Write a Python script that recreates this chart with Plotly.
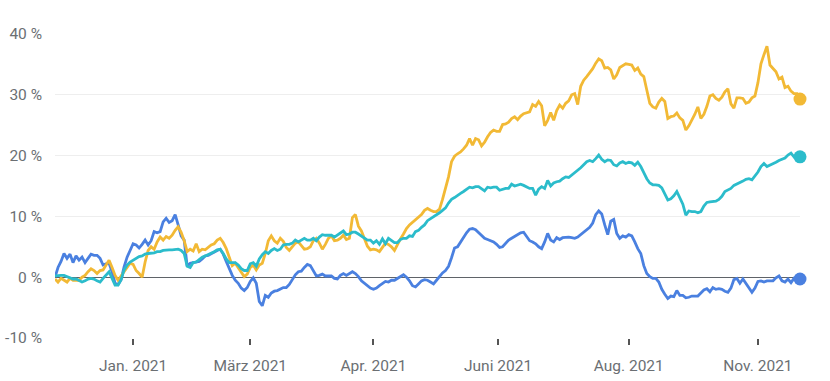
import plotly.graph_objects as go

# trading-day index (one point per session)
n_days = 249
days = list(range(n_days))

blue_pct = [
    0.0, 1.6, 2.6, 3.9, 3.1, 3.8, 2.4, 3.5, 2.8, 3.3,
    2.4, 3.2, 3.8, 3.6, 3.6, 3.1, 2.0, 2.2, 2.3, 0.9,
    -1.0, -1.2, -0.4, 1.7, 3.3, 4.4, 5.5, 5.3, 4.8, 5.4,
    6.1, 5.3, 6.0, 7.5, 7.3, 7.5, 9.1, 9.7, 9.0, 9.3,
    10.3, 8.6, 6.8, 6.1, 1.8, 2.3, 2.4, 2.5, 2.6, 3.0,
    3.5, 3.6, 3.9, 4.1, 4.4, 4.6, 3.8, 2.6, 1.4, 0.3,
    -0.5, -1.0, -1.8, -2.2, -1.7, -0.7, -0.1, -1.0, -4.0, -4.7,
    -3.0, -3.3, -2.6, -2.3, -2.2, -1.9, -1.7, -1.7, -1.2, -0.4,
    0.4, 0.9, 1.0, 1.6, 2.1, 1.9, 1.1, 0.2, 0.3, 0.5,
    0.2, 0.2, 0.2, -0.2, -0.3, 0.3, 0.6, 0.3, 0.6, 0.9,
    0.6, 0.1, -0.6, -1.0, -1.3, -1.8, -2.0, -1.8, -1.4, -1.0,
    -0.7, -0.8, -0.5, -0.5, -0.2, 0.2, 0.4, 0.0, -0.6, -1.4,
    -1.6, -1.1, -0.6, -0.4, -0.5, -0.8, -1.1, -0.5, 0.1, 0.7,
    1.1, 1.8, 3.2, 4.8, 5.0, 5.8, 6.6, 7.3, 7.9, 8.0,
    7.8, 7.3, 6.8, 6.4, 6.2, 6.0, 5.8, 5.4, 4.9, 5.0,
    5.5, 6.1, 6.4, 6.7, 6.9, 7.3, 7.4, 6.7, 6.0, 5.8,
    5.5, 5.0, 4.7, 5.8, 7.2, 6.1, 5.8, 6.5, 6.2, 6.5,
    6.6, 6.6, 6.5, 6.4, 6.6, 7.0, 7.5, 7.8, 8.2, 8.9,
    10.3, 10.9, 10.4, 8.6, 7.0, 9.2, 9.5, 7.2, 6.4, 6.8,
    6.6, 7.0, 6.8, 5.8, 4.7, 3.9, 1.9, 0.6, 0.1, -0.2,
    -0.2, -0.8, -2.0, -2.8, -3.5, -3.1, -3.2, -2.2, -3.0, -3.0,
    -3.4, -3.3, -3.1, -3.1, -3.1, -2.6, -2.1, -1.9, -2.4, -1.7,
    -2.0, -1.9, -2.0, -2.3, -2.5, -1.8, -0.4, -0.2, -1.0, -0.3,
    -1.0, -1.6, -2.5, -1.8, -0.7, -0.6, -0.8, -0.6, -0.6, -0.6,
    -0.1, 0.2, -0.6, -0.8, -0.3, -0.9, -0.2, -0.5, -0.3,
]

yellow_pct = [
    -0.3, -0.8, -0.2, -0.5, -0.8, -0.2, -0.5, -0.5, -0.5, 0.0,
    0.3, 0.9, 1.4, 1.1, 0.6, 1.1, 1.2, 2.0, 2.8, 1.6,
    0.3, -0.5, 0.2, 1.1, 1.7, 2.3, 2.1, 1.1, 0.6, 0.0,
    2.5, 4.4, 5.0, 4.6, 5.8, 6.6, 6.1, 6.7, 6.4, 6.9,
    7.7, 8.3, 7.4, 6.0, 4.2, 4.6, 4.3, 5.5, 4.2, 4.6,
    4.5, 4.9, 5.3, 5.5, 6.1, 6.4, 5.7, 4.7, 3.2, 1.9,
    2.3, 1.6, 0.9, 0.1, 0.5, 1.6, 2.0, 1.2, 2.0, 2.3,
    3.9, 6.0, 6.8, 6.0, 5.6, 6.4, 5.9, 4.9, 4.4, 5.1,
    5.6, 5.8, 5.1, 4.6, 4.7, 5.0, 6.0, 6.4, 5.6, 4.6,
    5.4, 6.4, 6.8, 6.0, 6.1, 6.4, 6.9, 6.2, 6.4, 9.8,
    10.3, 8.4, 7.6, 6.4, 5.1, 4.5, 4.6, 4.5, 4.2, 4.9,
    5.6, 5.4, 5.0, 4.4, 5.4, 6.3, 7.1, 8.0, 8.6, 9.0,
    9.4, 9.9, 10.3, 11.0, 11.3, 11.0, 10.8, 10.8, 11.2, 12.8,
    14.5, 16.5, 19.0, 19.9, 20.3, 20.6, 21.1, 21.7, 22.8, 21.7,
    22.8, 22.6, 21.6, 22.2, 23.1, 23.8, 24.2, 24.0, 24.0, 25.1,
    25.2, 25.5, 26.1, 26.4, 25.9, 26.5, 26.9, 27.1, 27.2, 28.4,
    28.1, 28.9, 28.2, 24.9, 25.8, 27.1, 25.8, 27.4, 28.3, 27.8,
    28.6, 29.0, 30.0, 30.2, 28.4, 31.4, 32.4, 33.0, 33.6, 34.3,
    35.2, 35.9, 35.6, 34.4, 34.5, 34.1, 32.6, 33.3, 34.5, 34.8,
    35.1, 35.0, 34.9, 34.0, 34.4, 33.4, 33.0, 30.8, 28.6, 28.0,
    27.8, 28.8, 29.4, 28.9, 26.1, 26.4, 26.5, 27.0, 26.2, 25.8,
    24.2, 24.9, 25.8, 26.8, 28.0, 26.1, 26.8, 28.1, 29.8, 30.0,
    29.4, 29.1, 29.6, 30.5, 31.0, 28.5, 27.8, 29.5, 29.5, 29.4,
    28.6, 28.8, 29.5, 29.8, 32.0, 35.1, 36.6, 38.0, 34.9, 34.3,
    33.8, 32.6, 32.9, 31.2, 31.4, 30.6, 30.2, 30.2, 29.3,
]

cyan_pct = [
    0.2, 0.3, 0.3, 0.3, 0.1, 0.0, -0.3, -0.3, -0.5, -0.8,
    -0.6, -0.3, -0.2, -0.3, -0.6, -0.8, -0.2, 0.4, 0.9, -0.2,
    -1.3, -1.3, -0.4, 1.2, 2.0, 2.5, 2.8, 3.1, 3.4, 3.5,
    3.8, 3.9, 3.9, 4.0, 4.2, 4.2, 4.4, 4.5, 4.5, 4.5,
    4.6, 4.6, 4.4, 3.9, 1.8, 1.6, 2.4, 2.5, 2.9, 3.3,
    3.5, 3.7, 3.9, 4.2, 4.5, 4.6, 3.9, 3.0, 2.4, 2.4,
    2.4, 2.0, 1.4, 1.1, 1.1, 2.2, 2.4, 1.8, 3.0, 3.7,
    4.2, 3.9, 4.4, 4.7, 4.4, 4.6, 5.3, 5.4, 5.4, 5.6,
    6.1, 5.8, 6.1, 6.4, 6.1, 6.1, 6.4, 6.0, 6.6, 7.0,
    6.9, 6.9, 6.9, 6.6, 6.9, 7.2, 7.6, 7.0, 7.1, 7.4,
    7.4, 7.1, 6.8, 6.4, 6.1, 6.1, 5.6, 6.0, 5.4, 6.3,
    5.5, 6.4, 6.1, 5.7, 5.7, 6.2, 6.4, 6.4, 6.8, 6.7,
    7.5, 7.7, 8.2, 8.6, 9.3, 9.6, 9.9, 10.3, 10.6, 11.0,
    11.4, 12.2, 12.8, 13.1, 13.5, 13.8, 14.1, 14.4, 14.8, 14.7,
    14.9, 14.9, 14.5, 14.2, 14.8, 14.7, 14.8, 14.8, 14.3, 14.5,
    14.6, 14.6, 15.3, 15.0, 15.2, 15.3, 15.1, 14.9, 14.6, 14.6,
    13.5, 14.5, 14.9, 14.6, 15.9, 15.0, 15.5, 15.7, 15.8, 16.2,
    16.5, 16.4, 16.8, 17.1, 17.5, 18.0, 18.5, 19.0, 19.2, 19.0,
    19.5, 20.1, 19.4, 19.0, 19.3, 19.2, 18.5, 18.3, 18.8, 19.0,
    18.7, 18.9, 18.8, 18.4, 18.9, 18.2, 17.2, 16.2, 15.5, 15.2,
    15.2, 15.1, 14.7, 13.6, 12.7, 12.9, 13.4, 14.1, 13.0, 12.0,
    10.2, 10.9, 10.8, 10.8, 10.6, 10.8, 11.7, 12.3, 12.4, 12.4,
    12.5, 12.8, 13.3, 14.1, 14.3, 14.6, 15.1, 15.3, 15.5, 15.8,
    16.1, 16.2, 16.0, 16.6, 17.3, 18.2, 18.7, 18.2, 18.4, 18.6,
    18.9, 19.2, 19.4, 19.6, 20.1, 20.4, 19.8, 20.1, 19.8,
]

x_tick_days = [26, 65, 106, 147.5, 191, 234]
x_tick_labels = ["Jan. 2021", "März 2021", "Apr. 2021", "Juni 2021", "Aug. 2021", "Nov. 2021"]
y_tick_vals = [-10, 0, 10, 20, 30, 40]
y_tick_labels = ["-10 %", "0 %", "10 %", "20 %", "30 %", "40 %"]

BLUE = "#4a80e0"
YELLOW = "#f2b935"
CYAN = "#2bbccb"

fig = go.Figure()
for vals, col in [(blue_pct, BLUE), (yellow_pct, YELLOW), (cyan_pct, CYAN)]:
    fig.add_trace(go.Scatter(x=days, y=vals, mode="lines",
                             line=dict(color=col, width=2.8), hoverinfo="skip"))
for vals, col in [(blue_pct, BLUE), (yellow_pct, YELLOW), (cyan_pct, CYAN)]:
    fig.add_trace(go.Scatter(x=[days[-1]], y=[vals[-1]], mode="markers",
                             marker=dict(color=col, size=13), cliponaxis=False,
                             hoverinfo="skip"))

fig.update_layout(
    width=830, height=381,
    margin=dict(l=55, r=30, t=34, b=43, autoexpand=False),
    paper_bgcolor="white", plot_bgcolor="white",
    showlegend=False,
    font=dict(family="Roboto, Arial, sans-serif", size=15.5, color="#6b6f73"),
)
fig.update_xaxes(
    range=[0, n_days - 1], tickvals=x_tick_days, ticktext=x_tick_labels,
    showgrid=False, zeroline=False, showline=False, automargin=False,
    ticks="outside", ticklen=6, tickwidth=2, tickcolor="#555555",
    ticklabelstandoff=7,
)
fig.update_yaxes(
    range=[-10, 40], tickvals=y_tick_vals, ticktext=y_tick_labels,
    showgrid=True, gridcolor="#eeeeee", gridwidth=1, automargin=False,
    zeroline=True, zerolinecolor="#5f6368", zerolinewidth=1.2,
    showline=False, ticks="", ticklabelstandoff=12,
)

fig.write_html(
    "out.html",
    config={"displayModeBar": False},
    post_script="document.body.style.margin='0';document.body.style.overflow='hidden';",
)
